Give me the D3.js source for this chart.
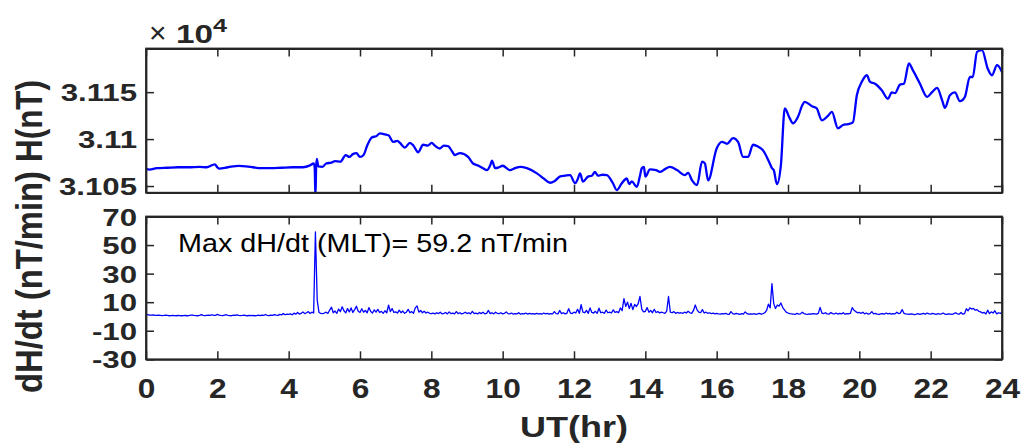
<!DOCTYPE html>
<html><head><meta charset="utf-8">
<script src="https://cdn.jsdelivr.net/npm/d3@7"></script>
<style>body{margin:0;background:#fff}svg{display:block}</style>
</head><body><svg id="c" width="1023" height="447"></svg>
<script>
// ---- data ----
const hHours = [0.0,0.1,0.3,0.6,0.9,1.2,1.5,1.7,1.93,2.0,2.05,2.3,2.6,2.8,3.0,3.2,3.5,3.8,4.1,4.4,4.6,4.7,4.73,4.75,4.77,4.79,4.83,4.95,5.05,5.2,5.3,5.45,5.6,5.7,5.8,5.9,6.0,6.1,6.2,6.34,6.45,6.56,6.7,6.8,6.93,7.05,7.12,7.26,7.4,7.5,7.63,7.77,7.9,8.01,8.1,8.24,8.35,8.47,8.58,8.66,8.8,9.03,9.17,9.3,9.45,9.56,9.66,9.7,9.79,9.9,10.0,10.2,10.35,10.49,10.68,10.96,11.15,11.33,11.45,11.6,11.75,11.89,12.03,12.1,12.17,12.25,12.39,12.5,12.59,12.67,12.8,12.92,13.09,13.2,13.34,13.48,13.55,13.62,13.76,13.85,13.9,13.96,14.0,14.13,14.3,14.41,14.55,14.69,14.89,15.11,15.2,15.31,15.45,15.59,15.67,15.76,16.0,16.15,16.29,16.46,16.6,16.74,16.88,17.02,17.16,17.3,17.49,17.55,17.6,17.69,17.8,17.91,18.05,18.14,18.28,18.4,18.47,18.67,18.8,18.95,19.12,19.23,19.4,19.54,19.68,19.82,19.93,20.07,20.21,20.3,20.44,20.63,20.8,20.91,21.0,21.14,21.25,21.39,21.5,21.7,21.9,22.04,22.18,22.32,22.4,22.54,22.68,22.82,22.96,23.1,23.18,23.3,23.44,23.6,23.72,23.86,24.0];
const hValues = [31068,31067.5,31069,31069.5,31070,31070,31070.5,31070,31073,31070,31068.5,31070,31071.5,31071,31070,31069,31069,31069.5,31070,31070,31072,31074,31070,31038,31070,31079,31071,31070.5,31074,31075,31076.5,31076,31083,31081,31084,31085,31081,31083,31093,31102,31103,31106,31105,31104,31097,31098,31096,31091,31096,31093,31086,31094,31093,31096,31093,31090,31093,31092.5,31087,31083,31085,31081,31074,31072,31069,31067,31073,31077,31069,31070,31071.6,31067,31069,31070.5,31069,31063.5,31058,31053.5,31055,31060,31061,31061.7,31053,31057,31063.5,31054.6,31060,31061,31065,31061,31062,31061.7,31053,31045.7,31053,31058,31052,31055,31049,31061,31069,31070.5,31060,31067.7,31067,31065,31068,31070.5,31067,31061.7,31064,31056,31051,31076,31074,31056,31090,31097,31095,31101,31097,31081,31081,31094,31092,31088,31074,31069,31067,31052,31072,31132.6,31122,31116.7,31123.7,31136,31139.7,31135,31133,31120,31124.8,31129,31111.4,31115,31116,31117.8,31146.8,31161,31168,31161,31159,31152,31143,31149.7,31149,31158,31159,31180.5,31173.4,31159,31145,31150,31154.6,31141.5,31133.3,31146.8,31149.7,31140.4,31145,31166.3,31166,31192.9,31194.7,31175,31168,31178.7,31171.6];

// dH/dt sampled every 0.05 hr, one row per hour
const dHdtValues = [
1.6,1.2,1.0,0.9,1.1,0.8,0.7,0.9,0.8,0.6,0.7,0.9,0.7,0.5,0.6,0.8,0.6,0.5,0.7,0.6,
0.5,0.6,0.8,0.5,0.6,0.9,1.0,0.7,0.6,0.5,0.8,1.3,0.7,0.6,0.8,1.0,0.7,1.2,0.8,0.7,
1.5,1.0,0.7,0.6,0.9,1.2,0.8,0.6,0.5,0.9,0.7,1.1,0.8,0.6,0.7,0.9,0.6,0.5,0.8,0.6,
0.7,0.5,0.6,0.9,0.6,1.0,0.7,1.4,0.8,0.6,1.0,0.8,1.3,0.9,0.8,1.5,1.1,2.0,1.2,1.6,
1.4,1.8,1.2,2.3,1.6,2.8,1.7,2.2,3.2,2.0,2.6,3.4,2.1,3.0,2.4,59.2,11.5,2.8,2.2,2.0,
2.4,3.0,2.1,4.5,6.5,2.6,3.8,2.2,5.2,3.4,6.8,4.0,2.5,5.5,3.2,6.0,2.8,4.8,7.2,3.6,
2.8,5.4,3.0,4.2,2.6,6.2,3.4,2.4,4.6,3.0,5.0,2.8,3.6,2.2,4.0,2.6,8.0,3.4,5.6,2.8,
3.2,2.4,4.4,2.6,3.8,2.2,3.0,5.0,2.6,3.4,2.2,6.0,7.4,3.0,4.2,2.6,3.6,2.4,3.0,2.2,
2.0,2.4,1.8,2.6,2.0,3.0,1.8,2.2,2.8,1.8,3.2,2.0,2.4,1.8,3.4,2.0,2.6,1.8,2.2,3.0,
2.0,2.6,1.8,3.6,2.0,2.4,1.8,2.8,2.0,3.0,1.8,2.2,4.2,2.0,2.6,1.8,3.0,2.2,2.0,2.6,
1.8,2.2,3.2,2.0,1.8,2.4,1.6,2.0,1.8,2.6,1.6,2.0,1.8,2.4,1.6,2.2,1.8,2.0,1.6,2.2,
1.8,2.0,1.6,2.4,1.8,2.2,1.6,2.0,1.8,3.4,2.0,1.8,4.2,2.0,2.6,1.8,2.2,5.4,2.4,2.0,
3.0,2.4,5.0,2.2,8.2,3.0,2.6,4.2,2.2,6.0,2.8,2.4,3.6,2.2,5.8,2.6,3.0,2.2,4.4,2.6,
3.0,2.4,4.6,2.8,3.4,2.6,6.0,4.0,12.5,7.0,10.0,5.6,9.2,4.8,8.4,7.0,9.0,14.0,5.2,3.2,
3.6,6.2,3.0,4.2,2.6,5.0,2.8,3.4,2.4,3.0,2.6,2.2,3.8,14.0,3.0,2.6,3.4,2.2,2.8,2.4,
2.6,2.2,3.0,2.4,3.6,2.6,2.2,4.2,8.0,4.6,3.0,2.6,4.8,2.4,3.0,2.2,2.6,2.0,2.4,1.8,
2.2,1.8,1.6,2.0,1.8,2.2,1.6,1.4,3.4,2.0,1.6,2.2,1.8,1.4,2.0,1.6,3.2,2.0,1.6,1.8,
1.6,2.0,1.4,1.8,2.2,1.6,2.0,2.6,4.2,8.6,6.0,23.0,9.0,5.6,8.0,7.2,9.4,6.4,4.6,3.0,
2.4,2.0,1.8,1.6,1.4,2.2,1.6,1.8,3.0,2.0,1.6,1.4,1.8,1.6,2.0,1.8,1.6,2.2,6.4,2.4,
2.0,2.6,1.8,1.6,2.8,2.0,1.8,2.4,1.6,2.2,1.8,2.6,1.6,2.0,1.8,2.2,6.2,4.4,3.4,2.6,
2.8,2.2,3.0,1.8,2.4,1.6,2.0,3.4,1.8,2.2,1.6,1.4,1.8,2.0,1.6,2.4,1.8,2.2,1.6,2.0,
1.8,3.0,2.0,2.4,4.8,2.2,1.8,1.6,1.4,1.8,1.6,1.2,1.6,2.0,1.4,1.8,2.2,1.6,2.4,1.8,
1.6,2.2,1.8,1.4,2.0,1.6,1.8,2.4,1.6,1.4,1.8,1.6,1.4,2.0,2.6,1.8,1.6,2.8,1.6,2.0,
5.4,4.0,6.0,5.2,5.6,4.4,4.8,3.6,3.2,2.4,2.8,1.8,4.4,2.0,3.2,2.4,4.0,1.8,2.6,2.2,
2.8];
const dHdtStep = 0.05;
const dHdtHours = dHdtValues.map((v, i) => i * dHdtStep);

const xTicks = [0,2,4,6,8,10,12,14,16,18,20,22,24];
const hTicks = [31050,31100,31150];
const hTickLabels = ["3.105","3.11","3.115"];
const dTicks = [-30,-10,10,30,50,70];
const annotation = "Max dH/dt (MLT)= 59.2 nT/min";

// ---- layout ----
const svg = d3.select("#c");
const L = 146, R = 1002;
const top1 = 48.5, bot1 = 192.7;
const top2 = 216.5, bot2 = 359.3;
const axisColor = "#262626";
const font = "'Liberation Sans', Arial, Helvetica, sans-serif";

const x = d3.scaleLinear().domain([0,24]).range([L,R]);
const yH = d3.scaleLinear().domain([31042.9,31196.5]).range([bot1,top1]);
const yD = d3.scaleLinear().domain([-30,70]).range([bot2,top2]);

const defs = svg.append("defs");
defs.append("clipPath").attr("id","clip1").append("rect")
  .attr("x",L).attr("y",top1).attr("width",R-L).attr("height",bot1-top1);
defs.append("clipPath").attr("id","clip2").append("rect")
  .attr("x",L).attr("y",top2).attr("width",R-L).attr("height",bot2-top2);

// lines
svg.append("path").datum(hHours.map((h,i)=>[h,hValues[i]]))
  .attr("clip-path","url(#clip1)")
  .attr("fill","none").attr("stroke","#0000ff").attr("stroke-width",2.3)
  .attr("stroke-linejoin","round")
  .attr("d", d3.line().x(d=>x(d[0])).y(d=>yH(d[1])).curve(d3.curveMonotoneX));

svg.append("path").datum(dHdtHours.map((h,i)=>[h,dHdtValues[i]]))
  .attr("clip-path","url(#clip2)")
  .attr("fill","none").attr("stroke","#0000ff").attr("stroke-width",1.3)
  .attr("stroke-linejoin","round")
  .attr("d", d3.line().x(d=>x(d[0])).y(d=>yD(d[1])));

function stretch(sel, target){
  sel.each(function(){
    const w = this.getComputedTextLength();
    const t = typeof target === "function" ? target(w, this) : target;
    d3.select(this).attr("textLength", t).attr("lengthAdjust","spacingAndGlyphs");
  });
}

function panel(y, yTop, yBot, ticks, labels, showX){
  const g = svg.append("g");
  const axB = d3.axisBottom(x).tickValues(xTicks).tickSizeInner(-8).tickSizeOuter(0).tickFormat(showX ? d3.format("d") : "");
  const axT = d3.axisTop(x).tickValues(xTicks).tickSizeInner(-8).tickSizeOuter(0).tickFormat("");
  const axL = d3.axisLeft(y).tickValues(ticks).tickSizeInner(-8).tickSizeOuter(0).tickFormat((d,i)=>labels[i]);
  const axR = d3.axisRight(y).tickValues(ticks).tickSizeInner(-8).tickSizeOuter(0).tickFormat("");
  const gb = g.append("g").attr("transform",`translate(0,${yBot})`).call(axB);
  const gt = g.append("g").attr("transform",`translate(0,${yTop})`).call(axT);
  const gl = g.append("g").attr("transform",`translate(${L},0)`).call(axL);
  const gr = g.append("g").attr("transform",`translate(${R},0)`).call(axR);
  [gb,gt,gl,gr].forEach(a=>{
    a.select(".domain").attr("stroke",axisColor).attr("stroke-width",1.8);
    a.selectAll(".tick line").attr("stroke",axisColor).attr("stroke-width",1.5);
    a.selectAll("text").attr("fill",axisColor).attr("font-family",font).attr("font-weight","bold");
  });
  g.append("rect").attr("x",L).attr("y",yTop).attr("width",R-L).attr("height",yBot-yTop)
    .attr("fill","none").attr("stroke",axisColor).attr("stroke-width",1.8);
  gl.selectAll("text").attr("font-size",24).attr("x",-9).attr("dy","0.36em");
  stretch(gl.selectAll("text"), w => w*1.3);
  if(showX){
    gb.selectAll("text").attr("font-size",28).attr("y",0).attr("dy",0)
      .attr("transform","translate(0,39)");
    stretch(gb.selectAll("text"), w => w*1.13);
  }
  return g;
}
panel(yH, top1, bot1, hTicks, hTickLabels, false);
panel(yD, top2, bot2, dTicks, dTicks.map(String), true);

// exponent label
const ex = svg.append("text").attr("x",149).attr("y",43).attr("font-family",font).attr("fill",axisColor);
ex.append("tspan").attr("font-size",30).text("\u00d7");
ex.append("tspan").attr("font-size",25).attr("font-weight","bold").attr("x",176).attr("textLength",37).attr("lengthAdjust","spacingAndGlyphs").text("10");
ex.append("tspan").attr("font-size",18).attr("font-weight","bold").attr("x",213).attr("dy",-11).attr("textLength",14).attr("lengthAdjust","spacingAndGlyphs").text("4");

// y labels
svg.append("text").attr("transform","translate(42,121) rotate(-90) scale(1,1.12)")
  .attr("text-anchor","middle").attr("font-family",font).attr("font-weight","bold")
  .attr("font-size",33).attr("fill",axisColor).text("H(nT)")
  .call(s=>stretch(s,82));
svg.append("text").attr("transform","translate(42,282) rotate(-90) scale(1,1.12)")
  .attr("text-anchor","middle").attr("font-family",font).attr("font-weight","bold")
  .attr("font-size",33).attr("fill",axisColor).text("dH/dt (nT/min)")
  .call(s=>stretch(s,222));

// x label
svg.append("text").attr("x",574).attr("y",437).attr("text-anchor","middle")
  .attr("font-family",font).attr("font-weight","bold").attr("font-size",30)
  .attr("fill",axisColor).text("UT(hr)").call(s=>stretch(s,108));

// annotation
svg.append("text").attr("x",178).attr("y",252).attr("font-family",font)
  .attr("font-size",25).attr("fill","#000").text(annotation).call(s=>stretch(s,390));
</script></body></html>
